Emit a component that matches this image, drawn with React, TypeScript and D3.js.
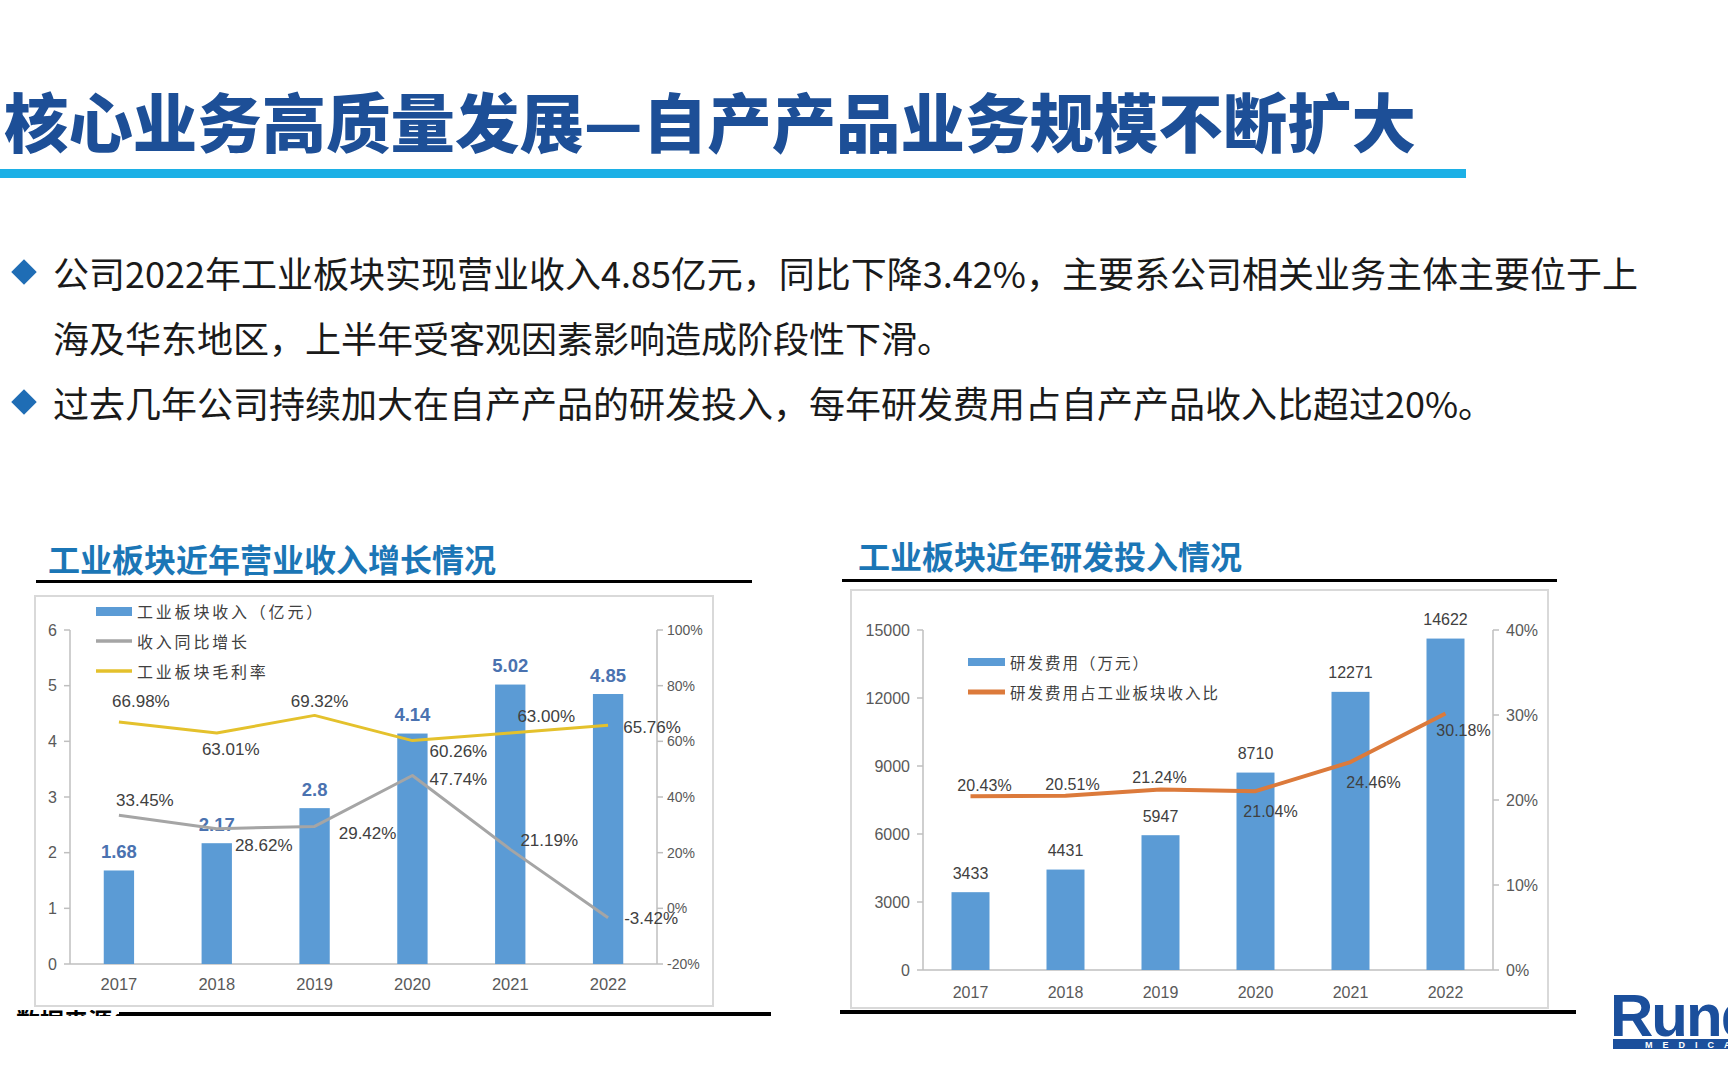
import React from 'react';
import * as d3 from 'd3';

const years = ['2017', '2018', '2019', '2020', '2021', '2022'];
const revenue = [1.68, 2.17, 2.8, 4.14, 5.02, 4.85];
const revenueGrowth = [33.45, 28.62, 29.42, 47.74, 21.19, -3.42];
const grossMargin = [66.98, 63.01, 69.32, 60.26, 63.0, 65.76];
const rdExpense = [3433, 4431, 5947, 8710, 12271, 14622];
const rdRatio = [20.43, 20.51, 21.24, 21.04, 24.46, 30.18];

const revTicks = [0, 1, 2, 3, 4, 5, 6];
const pctTicksL = [-20, 0, 20, 40, 60, 80, 100];
const rdTicks = [0, 3000, 6000, 9000, 12000, 15000];
const pctTicksR = [0, 10, 20, 30, 40];

const titleText = '核心业务高质量发展—自产产品业务规模不断扩大';
const bulletLines = [
  '公司2022年工业板块实现营业收入4.85亿元，同比下降3.42%，主要系公司相关业务主体主要位于上',
  '海及华东地区，上半年受客观因素影响造成阶段性下滑。',
  '过去几年公司持续加大在自产产品的研发投入，每年研发费用占自产产品收入比超过20%。',
];
const leftTitle = '工业板块近年营业收入增长情况';
const rightTitle = '工业板块近年研发投入情况';
const leftLegend = ['工业板块收入（亿元）', '收入同比增长', '工业板块毛利率'];
const rightLegend = ['研发费用（万元）', '研发费用占工业板块收入比'];

// label placement offsets (annotation layout)
const marginOff = [[22, -20], [14, 17], [5, -14], [46, 11], [36, -16], [44, 2]];
const growthOff = [[26, -15], [47, 17], [53, 7], [46, 4], [39, -9], [43, 1]];
const ratioOff = [[14, -11], [7, -11], [-1, -12], [15, 20], [23, 20], [18, 17]];

const SANS = "'Liberation Sans', Arial, 'Noto Sans CJK SC', sans-serif";
const CJK = "'Noto Sans CJK SC', 'Noto Sans', sans-serif";
const NUM2 = "'Liberation Sans Narrow', 'Liberation Sans', sans-serif";

export default function App() {
  const xL = d3.scaleBand<string>().domain(years).range([70, 657]).paddingInner(0.69).paddingOuter(0.345);
  const yL = d3.scaleLinear().domain([0, 6]).range([964, 630]);
  const yLR = d3.scaleLinear().domain([-20, 100]).range([964, 630]);
  const cxL = (i: number) => (xL(years[i]) as number) + xL.bandwidth() / 2;
  const lineL = (vals: number[]) =>
    d3.line<number>().x((_, i) => cxL(i)).y((v) => yLR(v))(vals) as string;

  const xR = d3.scaleBand<string>().domain(years).range([923, 1493]).paddingInner(0.6).paddingOuter(0.3);
  const yR = d3.scaleLinear().domain([0, 15000]).range([970, 630]);
  const yRR = d3.scaleLinear().domain([0, 40]).range([970, 630]);
  const cxR = (i: number) => (xR(years[i]) as number) + xR.bandwidth() / 2;
  const lineR = d3.line<number>().x((_, i) => cxR(i)).y((v) => yRR(v))(rdRatio) as string;

  const pct = (v: number) => v.toFixed(2) + '%';

  return (
    <svg width={1728} height={1080} style={{ position: 'absolute', left: 0, top: 0, background: '#fff' }}>
      <defs>
        <clipPath id="footclip">
          <rect x={0} y={1010} width={119} height={6} />
        </clipPath>
      </defs>
      <rect x={0} y={0} width={1728} height={1080} fill="#fff" />

      {/* Title */}
      <text x={4} y={119} dominantBaseline="central" fontFamily={CJK} fontWeight={900} fontSize={64}
        fill="#1d4f97" textLength={1412} lengthAdjust="spacingAndGlyphs">{titleText}</text>
      <rect x={0} y={169} width={1466} height={9} fill="#1cb0e6" />

      {/* Bullets */}
      {[272, 402].map((y, k) => (
        <rect key={k} x={24 - 9} y={y - 9} width={18} height={18} fill="#1f6db5"
          transform={`rotate(45 ${24} ${y})`} />
      ))}
      {bulletLines.map((t, i) => (
        <text key={i} x={53} y={[272, 337, 402][i]} dominantBaseline="central" fontFamily={CJK}
          fontSize={36} fill="#1a1a1a">{t}</text>
      ))}

      {/* Left chart header */}
      <text x={48} y={558} dominantBaseline="central" fontFamily={CJK} fontWeight={700} fontSize={32}
        fill="#1b76b6">{leftTitle}</text>
      <rect x={36} y={580} width={716} height={3} fill="#000" />
      <rect x={35} y={596} width={678} height={410} fill="none" stroke="#d9d9d9" strokeWidth={2} />

      {/* Left axes */}
      <line x1={70} x2={70} y1={630} y2={964} stroke="#bfbfbf" strokeWidth={1.5} />
      <line x1={657} x2={657} y1={630} y2={964} stroke="#bfbfbf" strokeWidth={1.5} />
      <line x1={70} x2={657} y1={964} y2={964} stroke="#bfbfbf" strokeWidth={1.5} />
      {revTicks.map((t) => (
        <g key={t}>
          <line x1={64} x2={70} y1={yL(t)} y2={yL(t)} stroke="#bfbfbf" strokeWidth={1.5} />
          <text x={57} y={yL(t)} textAnchor="end" dominantBaseline="central" fontFamily={SANS}
            fontSize={16} fill="#595959">{t}</text>
        </g>
      ))}
      {pctTicksL.map((t) => (
        <g key={t}>
          <line x1={657} x2={663} y1={yLR(t)} y2={yLR(t)} stroke="#bfbfbf" strokeWidth={1.5} />
          <text x={667} y={yLR(t)} dominantBaseline="central" fontFamily={SANS}
            fontSize={14} fill="#595959">{t + '%'}</text>
        </g>
      ))}
      {years.map((y, i) => (
        <text key={y} x={cxL(i)} y={984} textAnchor="middle" dominantBaseline="central" fontFamily={SANS}
          fontSize={16.5} fill="#595959">{y}</text>
      ))}

      {/* Left bars */}
      {revenue.map((v, i) => (
        <g key={i}>
          <rect x={xL(years[i])} y={yL(v)} width={xL.bandwidth()} height={964 - yL(v)} fill="#5b9bd5" />
          <text x={cxL(i)} y={yL(v) - 19} textAnchor="middle" dominantBaseline="central" fontFamily={SANS}
            fontWeight={700} fontSize={18.5} fill="#4a72b0">{String(v)}</text>
        </g>
      ))}
      <path d={lineL(revenueGrowth)} fill="none" stroke="#a5a5a5" strokeWidth={3} strokeLinejoin="round" />
      <path d={lineL(grossMargin)} fill="none" stroke="#e4c12c" strokeWidth={3} strokeLinejoin="round" />
      {grossMargin.map((v, i) => (
        <text key={'m' + i} x={cxL(i) + marginOff[i][0]} y={yLR(v) + marginOff[i][1]} textAnchor="middle"
          dominantBaseline="central" fontFamily={SANS} fontSize={17} fill="#404040">{pct(v)}</text>
      ))}
      {revenueGrowth.map((v, i) => (
        <text key={'g' + i} x={cxL(i) + growthOff[i][0]} y={yLR(v) + growthOff[i][1]} textAnchor="middle"
          dominantBaseline="central" fontFamily={SANS} fontSize={17} fill="#404040">{pct(v)}</text>
      ))}

      {/* Left legend */}
      <rect x={96} y={607} width={36} height={9} fill="#5b9bd5" />
      <line x1={96} x2={132} y1={641} y2={641} stroke="#a5a5a5" strokeWidth={3.5} />
      <line x1={96} x2={132} y1={671} y2={671} stroke="#e4c12c" strokeWidth={3.5} />
      {leftLegend.map((t, i) => (
        <text key={t} x={137} y={[611, 641, 671][i]} dominantBaseline="central" fontFamily={CJK}
          fontSize={16} fill="#404040" letterSpacing={2.8}>{t}</text>
      ))}

      {/* Left footer */}
      <rect x={119} y={1012} width={652} height={4} fill="#000" />
      <text x={16} y={1030} fontFamily={CJK} fontWeight={700} fontSize={24} fill="#000"
        clipPath="url(#footclip)">数据来源：公司</text>

      {/* Right chart header */}
      <text x={858} y={555} dominantBaseline="central" fontFamily={CJK} fontWeight={700} fontSize={32}
        fill="#1b76b6">{rightTitle}</text>
      <rect x={842} y={579} width={715} height={3} fill="#000" />
      <rect x={851} y={590} width={697} height={418} fill="none" stroke="#d9d9d9" strokeWidth={2} />

      {/* Right axes */}
      <line x1={923} x2={923} y1={630} y2={970} stroke="#bfbfbf" strokeWidth={1.5} />
      <line x1={1493} x2={1493} y1={630} y2={970} stroke="#bfbfbf" strokeWidth={1.5} />
      <line x1={923} x2={1493} y1={970} y2={970} stroke="#bfbfbf" strokeWidth={1.5} />
      {rdTicks.map((t) => (
        <g key={t}>
          <line x1={917} x2={923} y1={yR(t)} y2={yR(t)} stroke="#bfbfbf" strokeWidth={1.5} />
          <text x={910} y={yR(t)} textAnchor="end" dominantBaseline="central" fontFamily={NUM2}
            fontSize={16} fill="#595959">{t}</text>
        </g>
      ))}
      {pctTicksR.map((t) => (
        <g key={t}>
          <line x1={1493} x2={1499} y1={yRR(t)} y2={yRR(t)} stroke="#bfbfbf" strokeWidth={1.5} />
          <text x={1506} y={yRR(t)} dominantBaseline="central" fontFamily={NUM2}
            fontSize={16} fill="#595959">{t + '%'}</text>
        </g>
      ))}
      {years.map((y, i) => (
        <text key={y} x={cxR(i)} y={992} textAnchor="middle" dominantBaseline="central" fontFamily={NUM2}
          fontSize={16} fill="#595959">{y}</text>
      ))}

      {rdExpense.map((v, i) => (
        <g key={i}>
          <rect x={xR(years[i])} y={yR(v)} width={xR.bandwidth()} height={970 - yR(v)} fill="#5b9bd5" />
          <text x={cxR(i)} y={yR(v) - 19} textAnchor="middle" dominantBaseline="central" fontFamily={NUM2}
            fontSize={16} fill="#404040">{String(v)}</text>
        </g>
      ))}
      <path d={lineR} fill="none" stroke="#dc7a3b" strokeWidth={4} strokeLinejoin="round" />
      {rdRatio.map((v, i) => (
        <text key={'r' + i} x={cxR(i) + ratioOff[i][0]} y={yRR(v) + ratioOff[i][1]} textAnchor="middle"
          dominantBaseline="central" fontFamily={NUM2} fontSize={16} fill="#404040">{pct(v)}</text>
      ))}

      {/* Right legend */}
      <rect x={968} y={658} width={37} height={8} fill="#5b9bd5" />
      <line x1={968} x2={1005} y1={692} y2={692} stroke="#dc7a3b" strokeWidth={5} />
      {rightLegend.map((t, i) => (
        <text key={t} x={1010} y={[662, 692][i]} dominantBaseline="central" fontFamily={CJK}
          fontSize={15.5} fill="#404040" letterSpacing={2}>{t}</text>
      ))}

      <rect x={840} y={1010} width={736} height={4} fill="#000" />

      {/* Logo */}
      <text x={1610} y={1036} fontFamily={SANS} fontWeight={700} fontSize={60} fill="#1b4f9c"
        letterSpacing={-2}>Runda</text>
      <rect x={1613} y={1039} width={115} height={10} fill="#1b4f9c" />
      <text x={1645} y={1047.5} fontFamily={SANS} fontWeight={700} fontSize={9} fill="#fff"
        letterSpacing={10}>MEDICAL</text>
    </svg>
  );
}
